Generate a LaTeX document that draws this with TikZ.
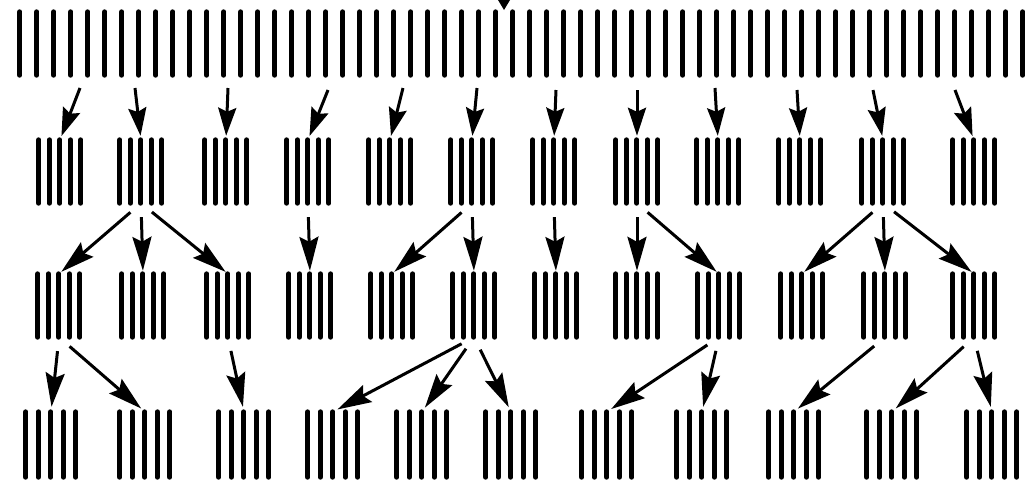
\documentclass[tikz,border=0pt]{standalone}
\usepackage{tikz}
\usetikzlibrary{arrows.meta}

\begin{document}
\begin{tikzpicture}[x=1pt, y=-1pt,
    bundle/.style={rectangle, minimum width=42pt, minimum height=63pt, inner sep=0pt},
    stick/.style={line width=5pt, line cap=round},
    splitarrow/.style={-{Stealth[length=34pt, width=19pt, inset=5pt]}, line width=3pt, shorten <=14pt, shorten >=3pt}]
    \useasboundingbox (0,0) rectangle (1035,483);

    % the long row at the top
    \node[bundle, minimum width=1003pt] (top) at (521.5,43.5) {};
    \foreach \i in {0,...,59}
        \draw[stick] ([xshift=\i*17pt]top.north west) -- ([xshift=\i*17pt]top.south west);
    \fill (498,0) -- (510,0) -- (504,10) -- cycle;

    % bundles, rows 2 to 4
    \foreach \x [count=\n] in {60,141,226,308,390,472,554,637,718,800,883,974}
        \node[bundle] (b\n) at (\x,171.5) {};
    \foreach \x [count=\n] in {59,143,228,310,392,474,556,637,719,802,885,974}
        \node[bundle] (c\n) at (\x,305.5) {};
    \foreach \x [count=\n] in {51,145,244,333,422,511,607,702,794,892,992}
        \node[bundle, minimum width=50pt, minimum height=65pt] (d\n) at (\x,444.5) {};

    \foreach \n in {1,...,12} {
        \foreach \i in {0,...,4} {
            \draw[stick] ([xshift=\i*10.5pt]b\n.north west) -- ([xshift=\i*10.5pt]b\n.south west);
            \draw[stick] ([xshift=\i*10.5pt]c\n.north west) -- ([xshift=\i*10.5pt]c\n.south west);
        }
    }
    \foreach \n in {1,...,11}
        \foreach \i in {0,...,4}
            \draw[stick] ([xshift=\i*12.5pt]d\n.north west) -- ([xshift=\i*12.5pt]d\n.south west);

    % top row to row 2
    \foreach \x/\y [count=\n] in {80/88,135/88,228/88,328/90,403/88,477/88,556/90,637/90,715/88,797/90,873/90,955/90}
        \coordinate (s\n) at (\x,\y);
    \foreach \n in {1,...,12}
        \draw[splitarrow, -{Stealth[length=28pt, width=18pt, inset=4pt]}, shorten <=0pt, shorten >=4pt] (s\n) -- (b\n.north);

    % row 2 to row 3
    \foreach \a/\b in {b2/c1,b2/c2,b2/c3,b4/c4,b6/c5,b6/c6,b7/c7,b8/c8,b8/c9,b11/c10,b11/c11,b11/c12}
        \draw[splitarrow] (\a.south) -- (\b.north);

    % row 3 to row 4
    \foreach \a/\b in {c1/d1,c1/d2,c3/d3,c6/d4,c6/d5,c6/d6,c9/d7,c9/d8,c11/d9,c12/d10,c12/d11}
        \draw[splitarrow, shorten >=5pt] (\a.south) -- (\b.north);
\end{tikzpicture}
\end{document}
